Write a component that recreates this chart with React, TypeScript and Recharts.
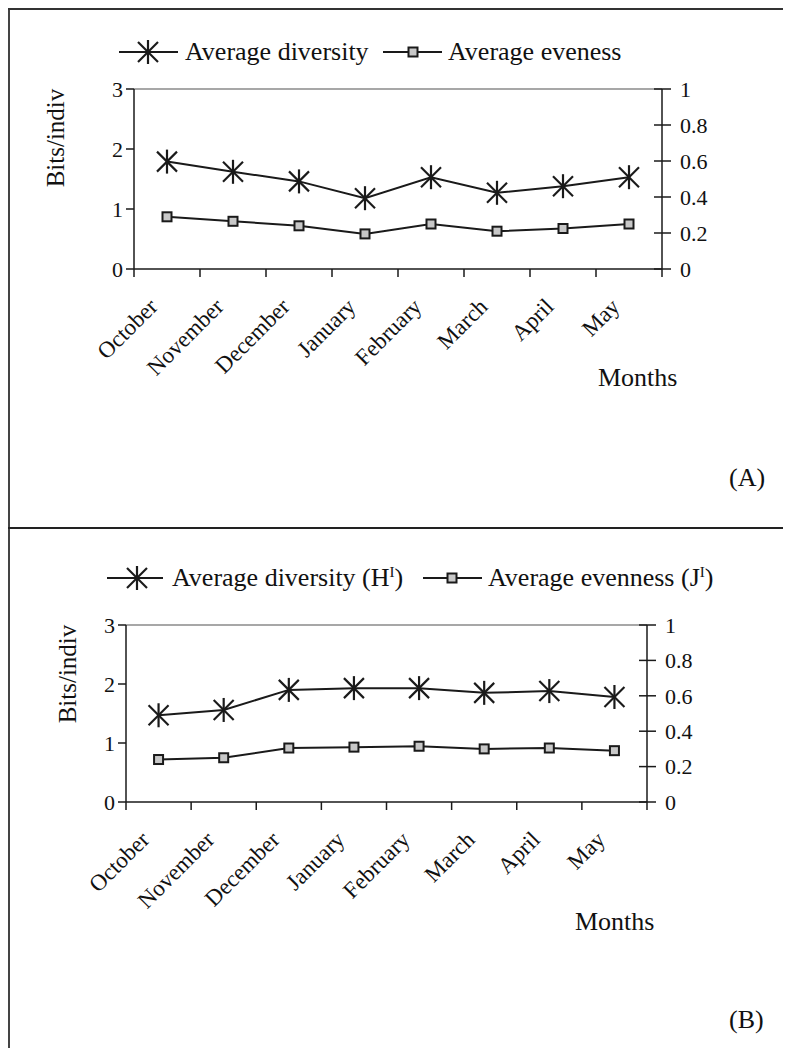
import React from 'react';
import { LineChart, Line, XAxis, YAxis, ReferenceLine, Label } from 'recharts';

const months = ['October', 'November', 'December', 'January', 'February', 'March', 'April', 'May'];
const diversityA = [1.79, 1.62, 1.46, 1.18, 1.53, 1.27, 1.38, 1.53];
const evennessA = [0.29, 0.265, 0.24, 0.195, 0.25, 0.21, 0.225, 0.25];
const diversityB = [1.47, 1.56, 1.9, 1.93, 1.93, 1.85, 1.88, 1.78];
const evennessB = [0.24, 0.25, 0.305, 0.31, 0.315, 0.3, 0.305, 0.29];
const leftTicks = [0, 1, 2, 3];
const rightTicks = [0, 0.2, 0.4, 0.6, 0.8, 1];

const FONT = "'Liberation Serif', 'Times New Roman', serif";
const INK = '#1a1a1a';

// months sit in the middle of each band, tick marks on the band edges
const xTicks = months.flatMap((_, i) => [i, i + 0.5]).concat(months.length);

const buildRows = (div: number[], even: number[]) =>
  months.map((m, i) => ({ x: i + 0.5, month: m, div: div[i], even: even[i] }));

const Star = ({ cx, cy }: { cx: number; cy: number }) => (
  <g stroke={INK} strokeWidth={2.2}>
    <line x1={cx - 10} y1={cy - 10} x2={cx + 10} y2={cy + 10} />
    <line x1={cx - 10} y1={cy + 10} x2={cx + 10} y2={cy - 10} />
    <line x1={cx} y1={cy - 12} x2={cx} y2={cy + 12} />
  </g>
);

const Square = ({ cx, cy }: { cx: number; cy: number }) => (
  <rect x={cx - 4.5} y={cy - 4.5} width={9} height={9} fill="#c8c8c8" stroke={INK} strokeWidth={2} />
);

const renderStar = (p: any) => <Star key={`s-${p.index}`} cx={p.cx} cy={p.cy} />;
const renderSquare = (p: any) => <Square key={`q-${p.index}`} cx={p.cx} cy={p.cy} />;

const MonthTick = ({ x, y, payload }: any) => {
  const v = payload.value;
  if (Number.isInteger(v)) {
    return <line x1={x} y1={y} x2={x} y2={y + 8} stroke={INK} strokeWidth={1.5} />;
  }
  const tx = x - 8;
  const ty = y + 39;
  return (
    <text x={tx} y={ty} transform={`rotate(-45 ${tx} ${ty})`} textAnchor="end" fontSize={23} fontFamily={FONT} fill="#111">
      {months[Math.floor(v)]}
    </text>
  );
};

const LeftTick = ({ x, y, payload }: any) => (
  <g>
    <line x1={x - 8} y1={y} x2={x} y2={y} stroke={INK} strokeWidth={1.5} />
    <text x={x - 11} y={y} dy="0.35em" textAnchor="end" fontSize={22} fontFamily={FONT} fill="#111">
      {payload.value}
    </text>
  </g>
);

const RightTick = ({ x, y, payload }: any) => (
  <g>
    <line x1={x - 8} y1={y} x2={x + 9} y2={y} stroke={INK} strokeWidth={1.5} />
    <text x={x + 18} y={y} dy="0.35em" textAnchor="start" fontSize={22} fontFamily={FONT} fill="#111">
      {String(payload.value)}
    </text>
  </g>
);

const makeYTitle = (dx: number) => ({ viewBox }: any) => {
  const cx = viewBox.x + dx;
  const cy = viewBox.y + 49;
  return (
    <text x={cx} y={cy} transform={`rotate(-90 ${cx} ${cy})`} textAnchor="middle" dy="0.35em" fontSize={25} fontFamily={FONT} fill="#111">
      Bits/indiv
    </text>
  );
};

interface PanelProps {
  rows: ReturnType<typeof buildRows>;
  margin: { top: number; right: number; left: number; bottom: number };
  titleDx: number;
}

function Panel({ rows, margin, titleDx }: PanelProps) {
  return (
    <LineChart width={775} height={519} data={rows} margin={margin}>
      <XAxis
        dataKey="x"
        type="number"
        domain={[0, months.length]}
        ticks={xTicks}
        interval={0}
        height={30}
        tickSize={0}
        tickMargin={0}
        tickLine={false}
        axisLine={{ stroke: INK, strokeWidth: 1.5 }}
        tick={MonthTick}
      />
      <YAxis
        yAxisId="left"
        domain={[0, 3]}
        ticks={leftTicks}
        interval={0}
        width={60}
        tickSize={0}
        tickMargin={0}
        tickLine={false}
        axisLine={{ stroke: INK, strokeWidth: 1.5 }}
        tick={LeftTick}
      >
        <Label content={makeYTitle(titleDx)} />
      </YAxis>
      <YAxis
        yAxisId="right"
        orientation="right"
        domain={[0, 1]}
        ticks={rightTicks}
        interval={0}
        width={60}
        tickSize={0}
        tickMargin={0}
        tickLine={false}
        axisLine={{ stroke: INK, strokeWidth: 1.5 }}
        tick={RightTick}
      />
      <ReferenceLine yAxisId="left" y={3} stroke="#8a8a8a" strokeWidth={1.5} />
      <Line yAxisId="left" dataKey="div" stroke={INK} strokeWidth={2} dot={renderStar} isAnimationActive={false} />
      <Line yAxisId="right" dataKey="even" stroke={INK} strokeWidth={2} dot={renderSquare} isAnimationActive={false} />
    </LineChart>
  );
}

const LegendIcon = ({ kind, w, at }: { kind: 'star' | 'square'; w: number; at: number }) => (
  <svg width={w} height={30} style={{ position: 'absolute', left: 0, top: 0 }}>
    <line x1={0} y1={15} x2={w} y2={15} stroke={INK} strokeWidth={2} />
    {kind === 'star' ? <Star cx={at} cy={15} /> : <Square cx={at} cy={15} />}
  </svg>
);

const text: React.CSSProperties = {
  position: 'absolute',
  fontFamily: FONT,
  fontSize: 26,
  lineHeight: '30px',
  color: '#111',
  whiteSpace: 'nowrap',
};

const sup: React.CSSProperties = { fontSize: 15, verticalAlign: 'top', lineHeight: '18px' };

export default function App() {
  return (
    <div style={{ position: 'relative', width: 775, height: 1040, background: '#fff' }}>
      {/* frame lines */}
      <div style={{ position: 'absolute', left: 0, top: 0, width: 2, height: 1040, background: '#444' }} />
      <div style={{ position: 'absolute', left: 0, top: 0, width: 775, height: 2, background: '#333' }} />
      <div style={{ position: 'absolute', left: 0, top: 519, width: 775, height: 2, background: '#222' }} />

      {/* panel A */}
      <div style={{ position: 'absolute', left: 0, top: 0 }}>
        <Panel rows={buildRows(diversityA, evennessA)} margin={{ top: 81, right: 61, left: 66, bottom: 228 }} titleDx={-19} />
      </div>
      <div style={{ position: 'absolute', left: 111, top: 29, width: 59, height: 30 }}>
        <LegendIcon kind="star" w={59} at={29} />
      </div>
      <div style={{ ...text, left: 177, top: 29 }}>Average diversity</div>
      <div style={{ position: 'absolute', left: 375, top: 29, width: 59, height: 30 }}>
        <LegendIcon kind="square" w={59} at={30} />
      </div>
      <div style={{ ...text, left: 440, top: 29 }}>Average eveness</div>
      <div style={{ ...text, left: 590, top: 355 }}>Months</div>
      <div style={{ ...text, left: 721, top: 455 }}>(A)</div>

      {/* panel B */}
      <div style={{ position: 'absolute', left: 0, top: 521 }}>
        <Panel rows={buildRows(diversityB, evennessB)} margin={{ top: 96, right: 76, left: 58, bottom: 216 }} titleDx={1} />
      </div>
      <div style={{ position: 'absolute', left: 99, top: 555, width: 56, height: 30 }}>
        <LegendIcon kind="star" w={56} at={30} />
      </div>
      <div style={{ ...text, left: 164, top: 555 }}>
        Average diversity (H<span style={sup}>I</span>)
      </div>
      <div style={{ position: 'absolute', left: 415, top: 555, width: 59, height: 30 }}>
        <LegendIcon kind="square" w={59} at={29} />
      </div>
      <div style={{ ...text, left: 480, top: 555 }}>
        Average evenness (J<span style={sup}>I</span>)
      </div>
      <div style={{ ...text, left: 567, top: 899 }}>Months</div>
      <div style={{ ...text, left: 721, top: 997 }}>(B)</div>
    </div>
  );
}
